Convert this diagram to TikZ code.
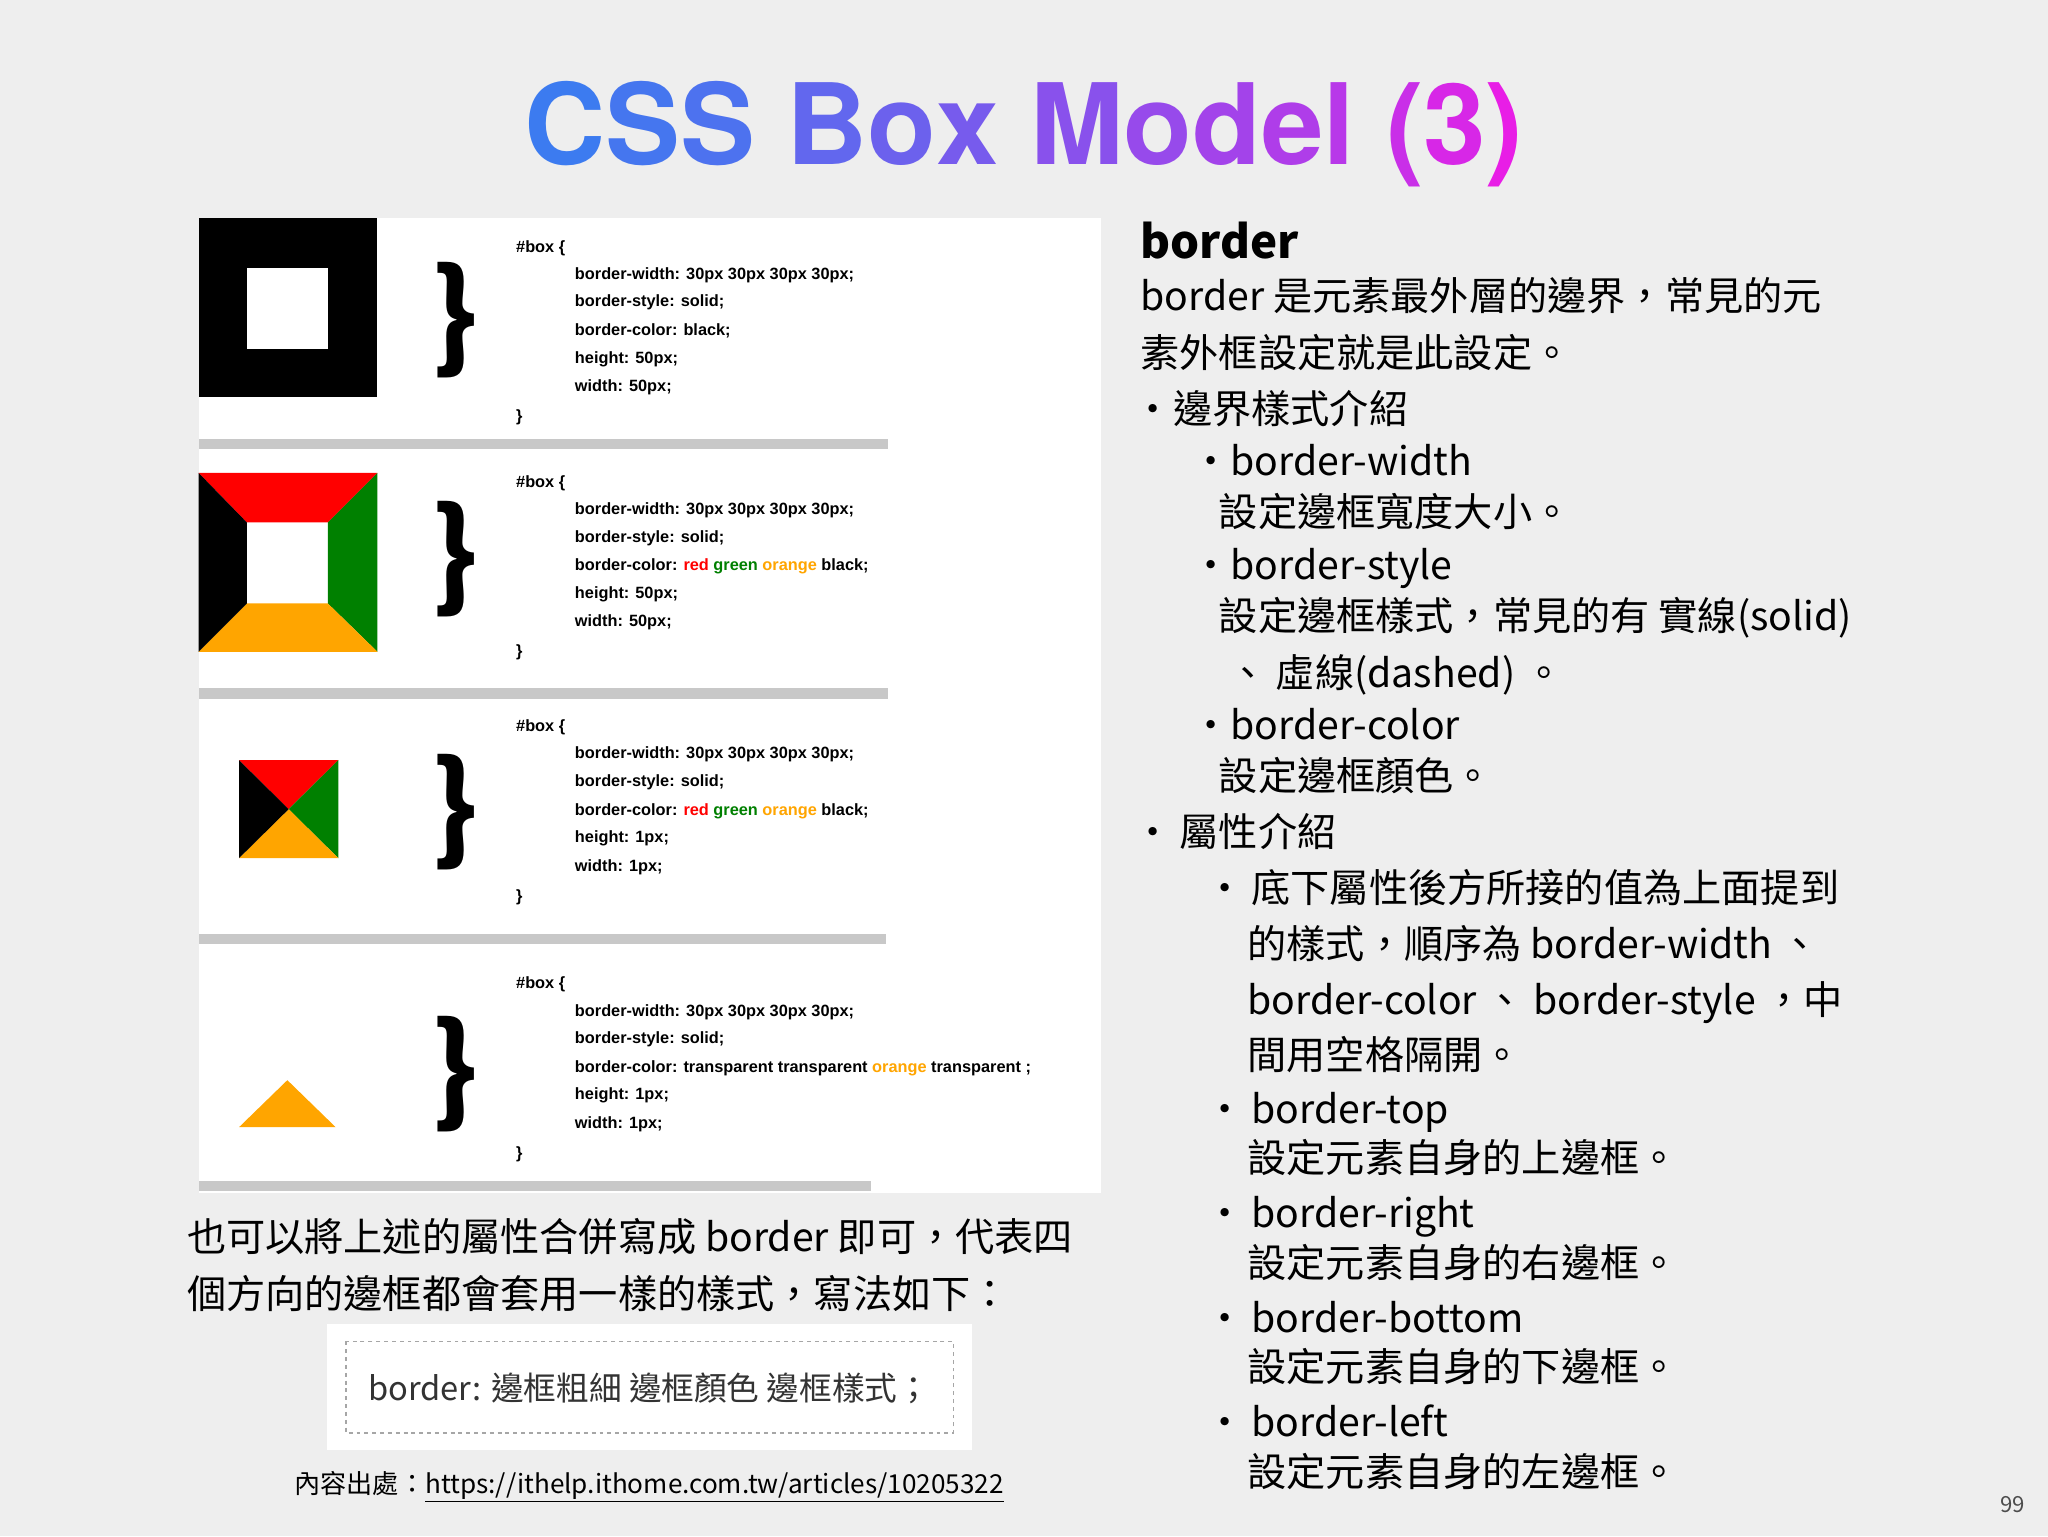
\documentclass[tikz,border=0pt]{standalone}
\usepackage{fontspec}
\setmainfont{Noto Sans CJK TC}
\newfontfamily\codefont{Liberation Sans}
\newfontfamily\titlefont{TeX Gyre Heros}
\definecolor{bg}{HTML}{EEEEEE}
\definecolor{tA}{HTML}{3C7BF0}
\definecolor{tB}{HTML}{E81EE6}
\definecolor{org}{HTML}{FFA500}
\definecolor{grn}{HTML}{008000}
\definecolor{sep}{HTML}{C8C8C8}
\newcommand{\tl}[2]{\textcolor{tB!#1!tA}{#2}}
\begin{document}
\begin{tikzpicture}[x=1pt,y=-1pt,
  code/.style={anchor=base west,inner sep=0pt,font=\codefont\fontsize{12.5}{14}\selectfont\bfseries},
  body/.style={anchor=base west,inner sep=0pt,font=\fontsize{30}{34}\selectfont},
  brace/.style={inner sep=0pt,font=\fontsize{90}{90}\selectfont\bfseries}]
\fill[bg] (0,0) rectangle (1568,1176);
\useasboundingbox (0,0) rectangle (1568,1176);
\node[inner sep=0pt,font=\titlefont\fontsize{86}{86}\selectfont\bfseries] (title) at (784,103)
 {\tl{0}{C}\tl{5}{S}\tl{10}{S} \tl{22}{B}\tl{28}{o}\tl{34}{x} \tl{45}{M}\tl{53}{o}\tl{60}{d}\tl{67}{e}\tl{72}{l} \tl{82}{(}\tl{90}{3}\tl{100}{)}};
% left panel
\fill[white] (152,167) rectangle (843,913);
\foreach \y/\w in {336/680,527/680,715/678,904/667} \fill[sep] (152,\y) rectangle (\w,\y+8);
% section 1
\fill[black] (152,167) rectangle (289,304);
\fill[white] (189,205) rectangle (251,267);
% section 2
\fill[red] (152,362)--(289,362)--(251,400)--(189,400)--cycle;
\fill[grn] (289,362)--(289,499)--(251,462)--(251,400)--cycle;
\fill[org] (289,499)--(152,499)--(189,462)--(251,462)--cycle;
\fill[black] (152,499)--(152,362)--(189,400)--(189,462)--cycle;
% section 3
\fill[red] (183,582)--(259,582)--(221,619.5)--cycle;
\fill[grn] (259,582)--(259,657)--(221,619.5)--cycle;
\fill[org] (259,657)--(183,657)--(221,619.5)--cycle;
\fill[black] (183,657)--(183,582)--(221,619.5)--cycle;
% section 4
\fill[org] (183,863)--(257,863)--(220,827)--cycle;
% braces
\foreach \n/\y in {b1/245,b2/428,b3/622,b4/822} \node[brace] (\n) at (348,\y) {\}};
% code
\foreach \s/\y in {1/0,2/180,3/367,4/564}{
 \node[code] (h\s) at (395,193+\y) {\#box \{};
 \node[code] (w\s) at (440,214+\y) {border-width: 30px 30px 30px 30px;};
 \node[code] (st\s) at (440,235+\y) {border-style: solid;};
 \node[code] (e\s) at (395,323+\y) {\}};
}
\node[code] (c1) at (440,257) {border-color: black;};
\node[code] (c2) at (440,437) {border-color: \textcolor{red}{red} \textcolor{grn}{green} \textcolor{org}{orange} black;};
\node[code] (c3) at (440,624) {border-color: \textcolor{red}{red} \textcolor{grn}{green} \textcolor{org}{orange} black;};
\node[code] (c4) at (440,821) {border-color: transparent transparent \textcolor{org}{orange} transparent ;};
\node[code] (hh1) at (440,278) {height: 50px;};
\node[code] (ww1) at (440,300) {width: 50px;};
\node[code] (hh2) at (440,458) {height: 50px;};
\node[code] (ww2) at (440,480) {width: 50px;};
\node[code] (hh3) at (440,645) {height: 1px;};
\node[code] (ww3) at (440,667) {width: 1px;};
\node[code] (hh4) at (440,842) {height: 1px;};
\node[code] (ww4) at (440,864) {width: 1px;};
% right text
\node[anchor=base west,inner sep=0pt,font=\fontsize{35}{40}\selectfont\bfseries] (hb) at (873,198) {border};
\node[body] (r1) at (873,238) {border 是元素最外層的邊界，常見的元};
\node[body] (r2) at (873,281) {素外框設定就是此設定。};
\node[body] (r3) at (868,324) {•邊界樣式介紹};
\node[body] (r4) at (912,364) {•border-width};
\node[body] (r5) at (933,403) {設定邊框寬度大小。};
\node[body] (r6) at (912,444) {•border-style};
\node[body] (r7) at (933,483) {設定邊框樣式，常見的有 實線(solid)};
\node[body] (r8) at (940,526) {、 虛線(dashed) 。};
\node[body] (r9) at (912,566) {•border-color};
\node[body] (r10) at (933,605) {設定邊框顏色。};
\node[body] (r11) at (868,648) {•\,屬性介紹};
\node[body] (r12) at (923,691) {•\,底下屬性後方所接的值為上面提到};
\node[body] (r13) at (955,734) {的樣式，順序為 border-width 、};
\node[body] (r14) at (955,777) {border-color 、 border-style ，中};
\node[body] (r15) at (955,819) {間用空格隔開。};
\foreach \n/\t/\y in {a/border-top/860,b/border-right/940,c/border-bottom/1020,d/border-left/1100}
  \node[body] (s\n) at (923,\y) {•\,\t};
\foreach \n/\t/\y in {a/上/898,b/右/978,c/下/1058,d/左/1138}
  \node[body] (t\n) at (955,\y) {設定元素自身的\t 邊框。};
% bottom left
\node[body] (l1) at (143,958) {也可以將上述的屬性合併寫成 border 即可，代表四};
\node[body] (l2) at (143,1002) {個方向的邊框都會套用一樣的樣式，寫法如下：};
\fill[white] (250,1014) rectangle (744,1110);
\draw[gray!70,dashed,line width=1.3pt] (265,1027) rectangle (730,1097);
\node[inner sep=0pt,font=\fontsize{25}{28}\selectfont,text=black!80] (cb) at (497,1063) {border: 邊框粗細 邊框顏色 邊框樣式；};
\node[inner sep=0pt,font=\fontsize{20}{22}\selectfont] (src) at (497,1138) {內容出處：\underline{https://ithelp.ithome.com.tw/articles/10205322}};
\node[inner sep=0pt,font=\fontsize{17}{20}\selectfont,text=black!70] (pg) at (1541,1152) {99};
\end{tikzpicture}
\end{document}
